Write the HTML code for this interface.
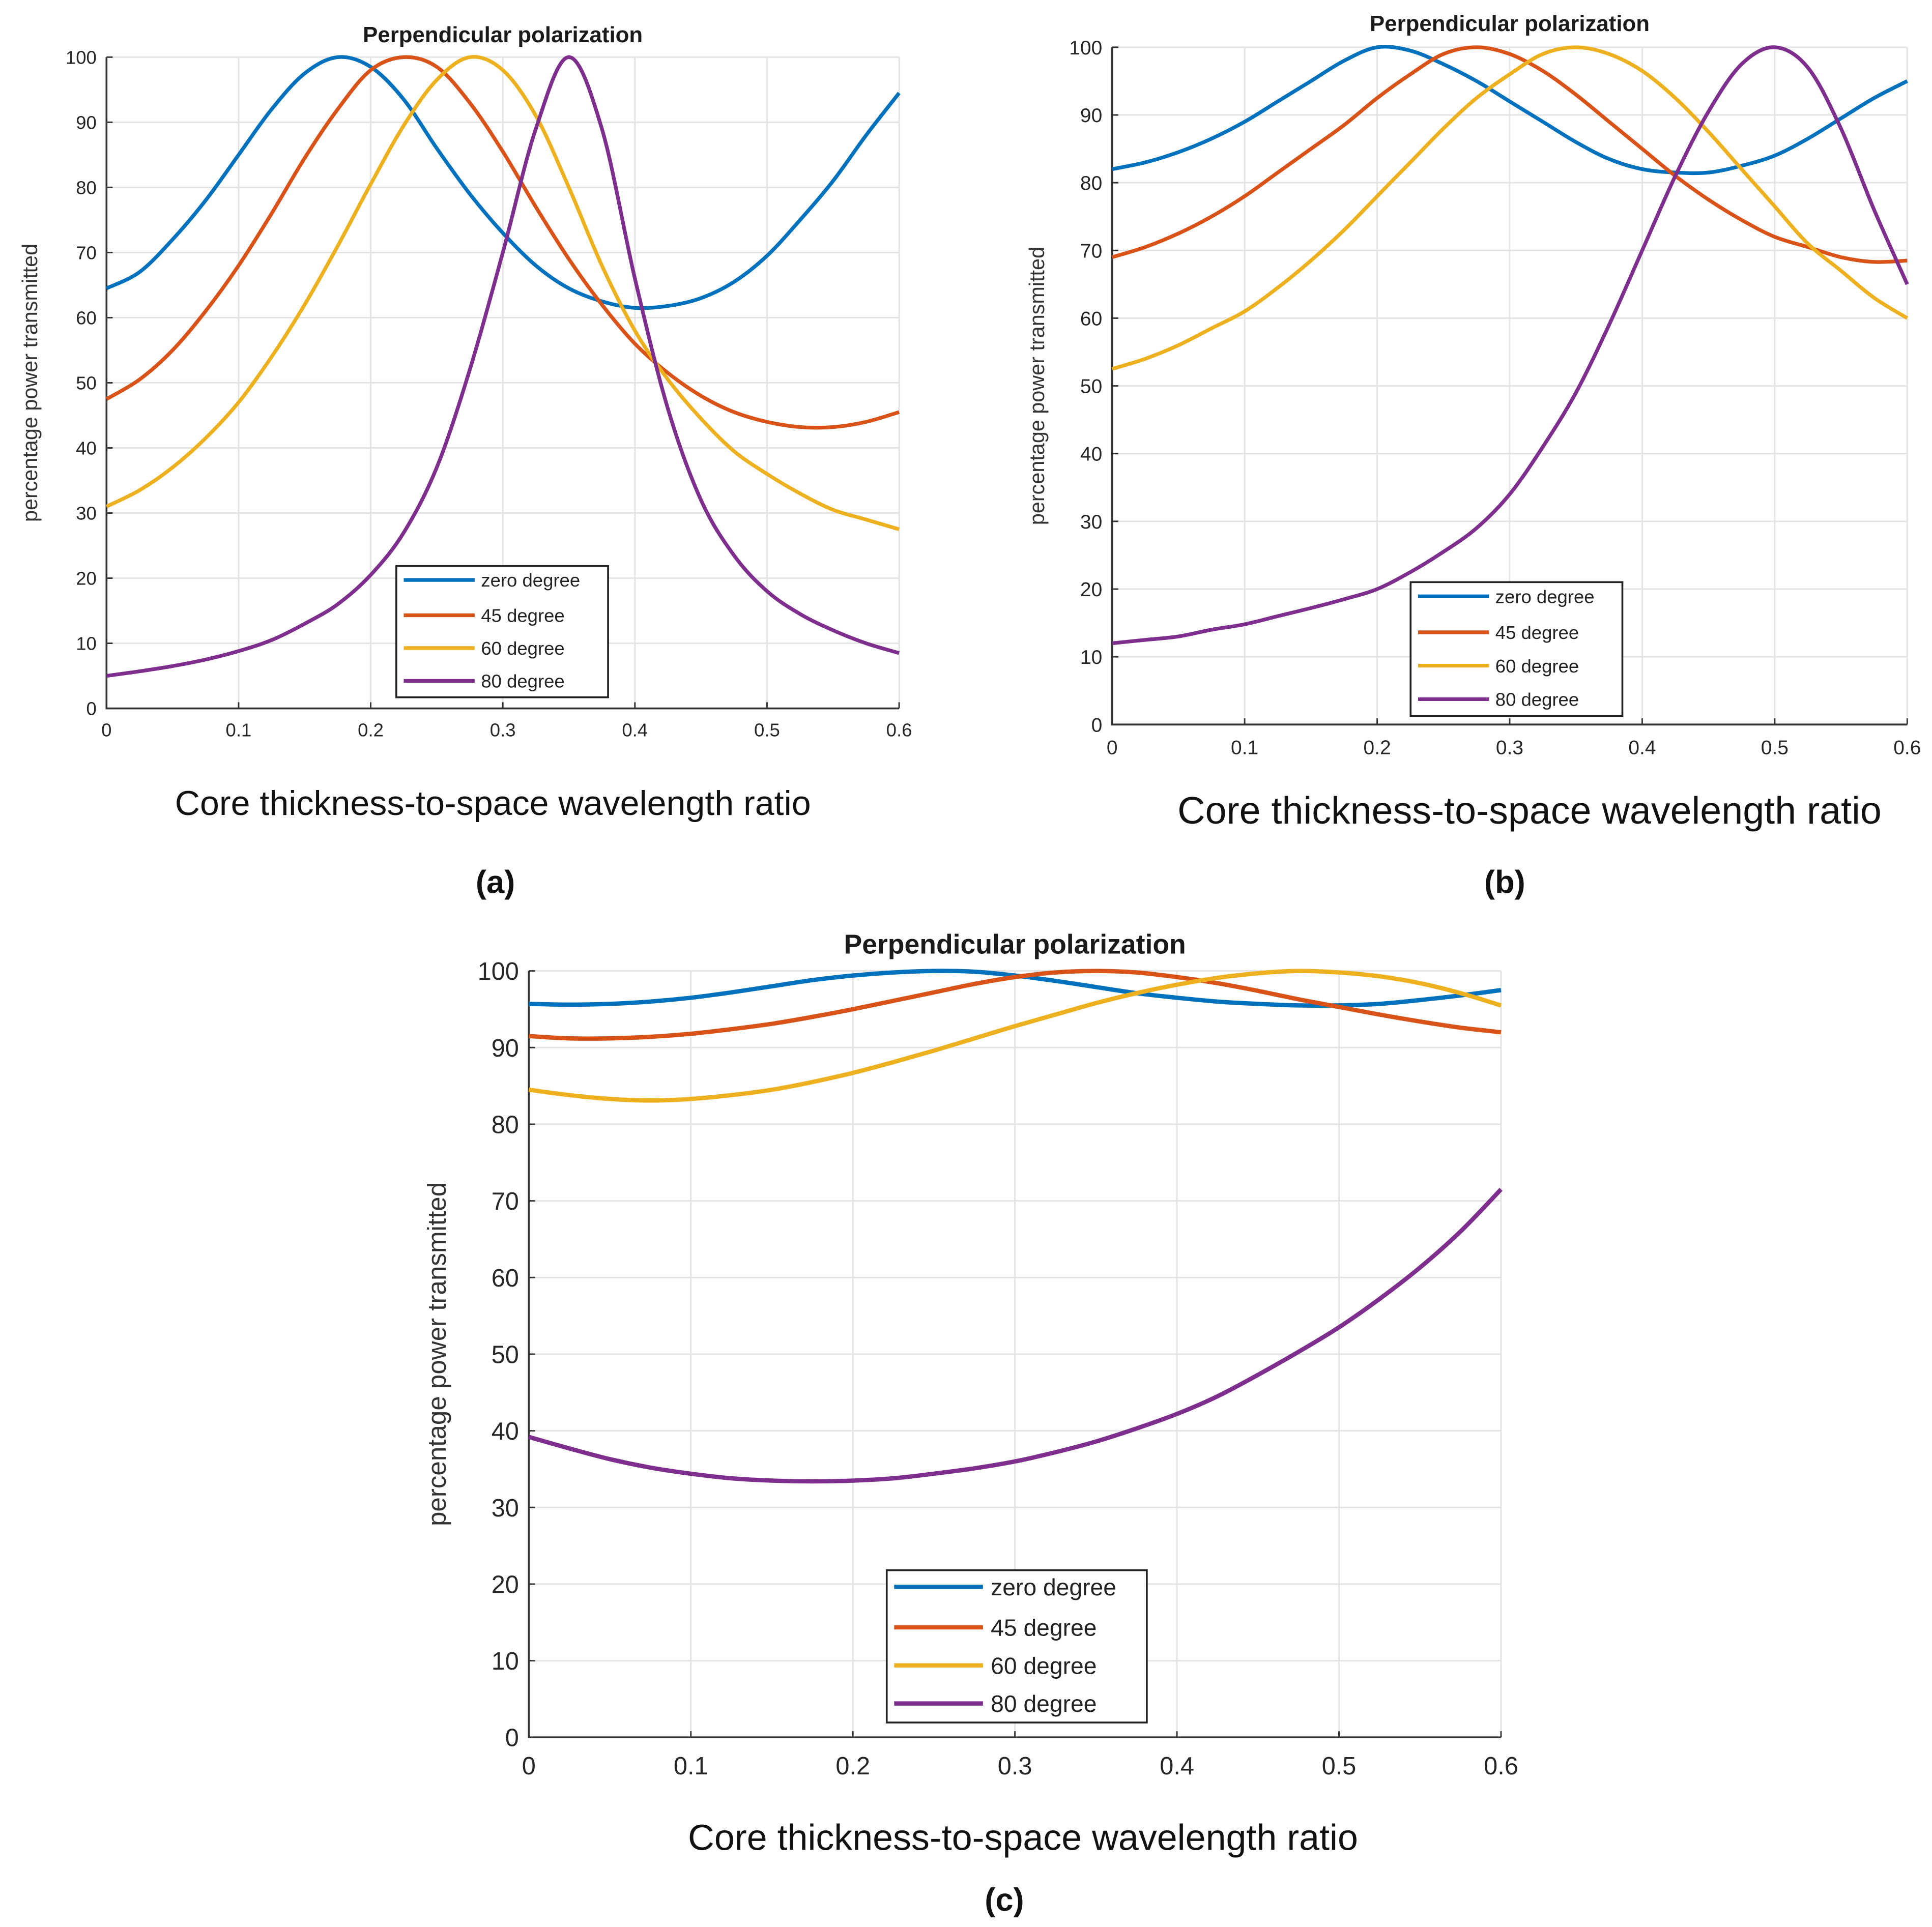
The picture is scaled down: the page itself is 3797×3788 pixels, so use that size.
<!DOCTYPE html>
<html><head><meta charset="utf-8"><title>Perpendicular polarization</title>
<style>
html,body{margin:0;padding:0;background:#fff;}
svg{display:block;}
text{font-family:"Liberation Sans",sans-serif;}
</style></head>
<body>
<svg id="fig" xmlns="http://www.w3.org/2000/svg" width="3797" height="3788" viewBox="0 0 1560 1556">
<rect width="1560" height="1556" fill="#fff"/>
</svg>
<script>
const xValues=[0,0.025,0.05,0.075,0.1,0.125,0.15,0.175,0.2,0.225,0.25,0.275,0.3,0.325,0.35,0.375,0.4,0.425,0.45,0.475,0.5,0.525,0.55,0.575,0.6];
const seriesNames=["zero degree","45 degree","60 degree","80 degree"];
const xTicks=[0,0.1,0.2,0.3,0.4,0.5,0.6];
const yTicks=[0,10,20,30,40,50,60,70,80,90,100];
const aZero=[64.5,67,72,78,85,92,97.5,100,98.5,93.5,86,79,73,68,64.5,62.5,61.5,61.8,63,65.5,69.5,75,81,88,94.5];
const a45=[47.5,50.5,55,61,68,76,84.5,92,98,100,98.5,93,85.5,77,69,62,56,51.5,48,45.5,44,43.2,43.2,44,45.5];
const a60=[31,33.5,37,41.5,47,54,62,71,80.5,89.5,96.5,100,98,91,80,68,58,50.5,44.5,39.5,36,33,30.5,29,27.5];
const a80=[5,5.7,6.5,7.5,8.8,10.5,13,16,20.5,27,37,52,70,89,100,89,66,46,32,23.5,18,14.5,12,10,8.5];
const bZero=[82,83,84.5,86.5,89,92,95,98,100,99.5,97.5,95,92,89,86,83.5,82,81.5,81.5,82.5,84,86.5,89.5,92.5,95];
const b45=[69,70.5,72.5,75,78,81.5,85,88.5,92.5,96,99,100,99,96.5,93,89,85,81,77.5,74.5,72,70.5,69,68.3,68.5];
const b60=[52.5,54,56,58.5,61,64.5,68.5,73,78,83,88,92.5,96,99,100,99,96.5,92.5,87.5,82,76.5,71,67,63,60];
const b80=[12,12.5,13,14,14.8,16,17.2,18.5,20,22.5,25.5,29,34,41,49,59,70,81,90.5,97.5,100,97,88,76,65];
const cZero=[95.7,95.6,95.7,96,96.5,97.2,98,98.8,99.4,99.8,100,99.9,99.4,98.7,97.9,97.1,96.5,96,95.7,95.5,95.5,95.7,96.2,96.8,97.5];
const c45=[91.5,91.2,91.2,91.4,91.8,92.4,93.1,94,95,96.1,97.2,98.3,99.2,99.8,100,99.8,99.2,98.4,97.4,96.3,95.3,94.3,93.4,92.6,92];
const c60=[84.5,83.8,83.3,83.1,83.3,83.8,84.5,85.5,86.7,88.1,89.6,91.2,92.8,94.3,95.8,97.1,98.2,99.1,99.7,100,99.8,99.3,98.4,97.1,95.5];
const c80=[39.2,37.7,36.3,35.2,34.4,33.8,33.5,33.4,33.5,33.8,34.4,35.1,36,37.2,38.6,40.3,42.2,44.5,47.3,50.3,53.5,57.2,61.3,66,71.5];

const colors=["#0072BD","#D95319","#EDB120","#7E2F8E"];
const NS="http://www.w3.org/2000/svg";
const svg=document.getElementById('fig');
function mk(tag,attrs,parent,txt){const e=document.createElementNS(NS,tag);for(const k in attrs)e.setAttribute(k,attrs[k]);if(txt!==undefined)e.textContent=txt;(parent||svg).appendChild(e);return e;}

const panels=[
 {id:'a',x0:86,x1:726,y0:572,y1:46,series:[aZero,a45,a60,a80],tick:15,title:18,titleY:34,ylab:17,ylabX:30,xlab:28,xlabY:658,xlabX:398,letterX:400,letterY:721,leg:[320,457,171,106],legFont:15,lw:3},
 {id:'b',x0:898,x1:1540,y0:585,y1:38,series:[bZero,b45,b60,b80],tick:16,title:18,titleY:25,ylab:17,ylabX:843,xlab:31,xlabY:665,xlabX:1235,letterX:1215,letterY:721,leg:[1139,470,171,108],legFont:15,lw:3},
 {id:'c',x0:427,x1:1212,y0:1403,y1:784,series:[cZero,c45,c60,c80],tick:20,title:22,titleY:770,ylab:21,ylabX:360,xlab:29.5,xlabY:1494,xlabX:826,letterX:811,letterY:1543,leg:[716,1268,210,123],legFont:19,lw:3.5}
];

function catmull(pts){let d='M'+pts[0][0].toFixed(2)+','+pts[0][1].toFixed(2);
 for(let i=0;i<pts.length-1;i++){const p0=pts[Math.max(0,i-1)],p1=pts[i],p2=pts[i+1],p3=pts[Math.min(pts.length-1,i+2)];
 const c1=[p1[0]+(p2[0]-p0[0])/6,p1[1]+(p2[1]-p0[1])/6],c2=[p2[0]-(p3[0]-p1[0])/6,p2[1]-(p3[1]-p1[1])/6];
 d+=' C'+c1[0].toFixed(2)+','+c1[1].toFixed(2)+' '+c2[0].toFixed(2)+','+c2[1].toFixed(2)+' '+p2[0].toFixed(2)+','+p2[1].toFixed(2);}
 return d;}

panels.forEach(p=>{
 const g=mk('g',{});
 
 
 const X=v=>p.x0+(v/0.6)*(p.x1-p.x0);
 const Y=v=>p.y0-(v/100)*(p.y0-p.y1);
 xTicks.forEach(t=>{const l=mk('line',{x1:X(t),x2:X(t),y1:p.y0,y2:p.y1,stroke:'#e3e3e3','stroke-width':1.2},g);
  
  });
 yTicks.forEach(t=>{const l=mk('line',{x1:p.x0,x2:p.x1,y1:Y(t),y2:Y(t),stroke:'#e3e3e3','stroke-width':1.2},g);
  
  });
 const ax=mk('path',{d:`M${p.x0},${p.y1}V${p.y0}H${p.x1}`,fill:'none',stroke:'#333','stroke-width':1.5},g);
 
 
 xTicks.forEach(t=>{mk('line',{x1:X(t),x2:X(t),y1:p.y0,y2:p.y0-5,stroke:'#333','stroke-width':1.2},g);
  const tx=mk('text',{x:X(t),y:p.y0+p.tick*1.5,'font-size':p.tick,'text-anchor':'middle',fill:'#262626'},g,String(t));
  
  });
 yTicks.forEach(t=>{mk('line',{x1:p.x0,x2:p.x0+5,y1:Y(t),y2:Y(t),stroke:'#333','stroke-width':1.2},g);
  const ty=mk('text',{x:p.x0-8,y:Y(t)+p.tick*0.36,'font-size':p.tick,'text-anchor':'end',fill:'#262626'},g,String(t));
  
  });
 p.series.forEach((s,i)=>{const pts=s.map((v,k)=>[X(xValues[k]),Y(v)]);
  const path=mk('path',{d:catmull(pts),fill:'none',stroke:colors[i],'stroke-width':p.lw,'stroke-linejoin':'round'},g);
  
  });
 const ti=mk('text',{x:(p.x0+p.x1)/2,y:p.titleY,'font-size':p.title,'font-weight':'bold','text-anchor':'middle',fill:'#1a1a1a'},g,'Perpendicular polarization');
 
 
 const cy=(p.y0+p.y1)/2;
 const yl=mk('text',{x:p.ylabX,y:cy,'font-size':p.ylab,'text-anchor':'middle',fill:'#333',transform:`rotate(-90 ${p.ylabX} ${cy})`},g,'percentage power transmitted');
 
 
 const xl=mk('text',{x:p.xlabX,y:p.xlabY,'font-size':p.xlab,'text-anchor':'middle',fill:'#111'},g,'Core thickness-to-space wavelength ratio');
 
 
 const lt=mk('text',{x:p.letterX,y:p.letterY,'font-size':26,'font-weight':'bold','text-anchor':'middle',fill:'#111','font-family':'Liberation Serif, serif'},g,'('+p.id+')');
 
 
 const [lx,ly,lw,lh]=p.leg;
 const lg=mk('g',{},g);
 
 
 mk('rect',{x:lx,y:ly,width:lw,height:lh,fill:'#fff',stroke:'#222','stroke-width':1.5},lg);
 const rowH=lh/4;
 seriesNames.forEach((n,i)=>{const yy=ly+rowH*(i+0.5)+ (i===0?-2:0);
  const e=mk('g',{},lg);
  
  
  mk('line',{x1:lx+6,x2:lx+lw*0.37,y1:yy,y2:yy,stroke:colors[i],'stroke-width':p.lw},e);
  mk('text',{x:lx+lw*0.4,y:yy+p.legFont*0.36,'font-size':p.legFont,fill:'#222'},e,n);});
});
</script>
</body></html>
